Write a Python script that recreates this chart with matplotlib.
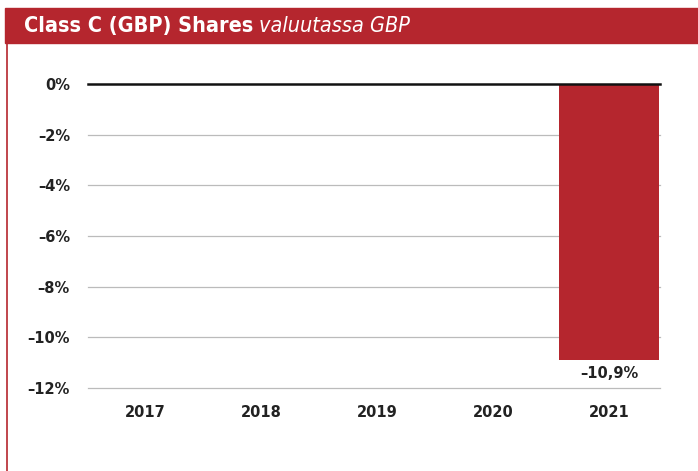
import matplotlib
matplotlib.use("Agg")
import matplotlib.pyplot as plt
from matplotlib.patches import Rectangle
from matplotlib.lines import Line2D

years = ["2017", "2018", "2019", "2020", "2021"]
values = [None, None, None, None, -10.9]
value_labels = ["", "", "", "", "–10,9%"]
yticks = [0, -2, -4, -6, -8, -10, -12]
ytick_labels = ["0%", "–2%", "–4%", "–6%", "–8%", "–10%", "–12%"]

RED = "#B5262E"
TXT = "#222222"

fig = plt.figure(figsize=(6.98, 4.71), dpi=100)
W, H = 698, 471

# header band
fig.patches.append(Rectangle((5 / W, 1 - 43 / H), 1 - 5 / W, 35 / H,
                             transform=fig.transFigure, color=RED, zorder=0))
fig.lines.append(Line2D([7 / W, 7 / W], [0, 1 - 43 / H], transform=fig.transFigure,
                        color=RED, lw=1.2))
t1 = fig.text(24 / W, 1 - 26 / H, "Class C (GBP) Shares", color="white", fontsize=15.5,
              fontweight="bold", family=["DejaVu Sans"], fontstretch="condensed",
              va="center", ha="left")
fig.canvas.draw()
bb = t1.get_window_extent(renderer=fig.canvas.get_renderer())
x2 = (bb.x1 + 6) / W
fig.text(x2, 1 - 26 / H, "valuutassa GBP", color="white", fontsize=15.5,
         style="italic", family=["DejaVu Sans"], fontstretch="condensed",
         va="center", ha="left")

ax = fig.add_axes([88 / W, 1 - 388 / H, (660 - 88) / W, (388 - 84) / H])
x = list(range(len(years)))
for i, v in enumerate(values):
    if v is not None:
        ax.bar(i, v, width=0.86, color=RED, zorder=3)
        ax.text(i, v - 0.25, value_labels[i], ha="center", va="top", fontsize=10.5,
                fontweight="bold", color=TXT)

ax.set_xlim(-0.49, 4.44)
ax.set_ylim(-12, 0)
ax.set_yticks(yticks)
ax.set_yticklabels(ytick_labels)
for t in yticks:
    if t == 0:
        continue
    ax.axhline(t, color="#BBBBBB", lw=0.9, zorder=1, clip_on=False)
ax.axhline(0, color="#111111", lw=1.8, zorder=4, clip_on=False)
ax.set_xticks(x)
ax.set_xticklabels(years)
for s in ax.spines.values():
    s.set_visible(False)
ax.tick_params(axis="both", length=0, labelsize=10.5, labelcolor=TXT)
ax.tick_params(axis="y", pad=13)
ax.tick_params(axis="x", pad=12)
for lab in ax.get_xticklabels() + ax.get_yticklabels():
    lab.set_fontweight("bold")

fig.savefig("out.png", dpi=100)
